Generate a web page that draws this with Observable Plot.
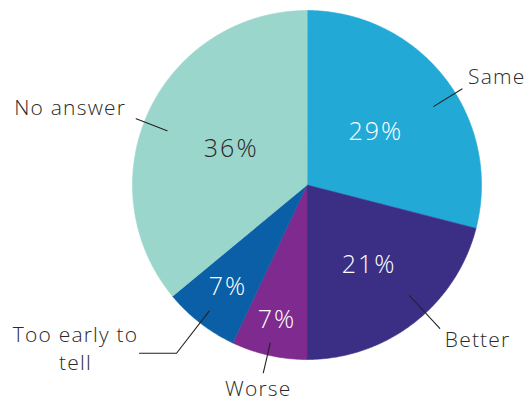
<!DOCTYPE html>
<html>
<head>
<meta charset="utf-8">
<script src="https://cdn.jsdelivr.net/npm/d3@7"></script>
<script src="https://cdn.jsdelivr.net/npm/@observablehq/plot@0.6"></script>
<style>
  html, body { margin: 0; padding: 0; background: #fff; }
  svg [font-size="25"] { letter-spacing: 2px; }
  svg [font-size="21"] { letter-spacing: 1.2px; }
</style>
</head>
<body>
<div id="chart"></div>
<script>
// ---- data ----
const categories = ["Same", "Better", "Worse", "Too early to\ntell", "No answer"];
const values = [29, 21, 7, 7, 36];
const colors = ["#22a9d6", "#3a2f84", "#7e2a8e", "#0a5fa6", "#9bd6cc"];
const darkLabel = [false, false, false, false, true];

// ---- layout (pixels) ----
const W = 530, H = 401;
const cx = 306.5, cy = 184.5, R = 174.5;
// per slice: radius factor for % label, leader angle offset (deg), leader r0/r1 factors, label offset
const layout = [
  {pr: 0.50, da: 6,   r0: 0.855, r1: 1.045, dx: 6,   dy: -14, anchor: "start"},
  {pr: 0.58, da: -5,  r0: 0.865, r1: 1.12,  dx: 5,   dy: 10,  anchor: "start"},
  {pr: 0.79, da: 0.5, r0: 0.93,  r1: 1.105, dx: -5,  dy: 14,  anchor: "middle"},
  {pr: 0.74, da: 0,   r0: 0.915, r1: 1.22,  dx: -64, dy: -6,  anchor: "middle", elbow: 37},
  {pr: 0.48, da: -4,  r0: 0.86,  r1: 1.05,  dx: -10, dy: -13, anchor: "end"}
];

const data = categories.map((c, i) => ({label: c, value: values[i], i}));
const arcs = d3.pie().sort(null).value(d => d.value)(data);
const pt = (a, r) => [cx + r * Math.sin(a), cy - r * Math.cos(a)];
const rad = Math.PI / 180;

// slice outlines
const slicePts = [];
for (const a of arcs) {
  slicePts.push({key: a.data.label, x: cx, y: cy});
  const n = Math.max(8, Math.ceil((a.endAngle - a.startAngle) / (0.5 * rad)));
  for (let k = 0; k <= n; k++) {
    const ang = a.startAngle + (a.endAngle - a.startAngle) * k / n;
    const [x, y] = pt(ang, R);
    slicePts.push({key: a.data.label, x, y});
  }
}

// percentage labels
const pctPts = arcs.map((a, i) => {
  const mid = (a.startAngle + a.endAngle) / 2;
  const [x, y] = pt(mid, R * layout[i].pr);
  return {x, y, text: `${a.data.value}%`, dark: darkLabel[i]};
});

// leaders + category labels
const leaderPts = [];
const catPts = [];
arcs.forEach((a, i) => {
  const L = layout[i];
  const mid = (a.startAngle + a.endAngle) / 2 + L.da * rad;
  const [x0, y0] = pt(mid, R * L.r0);
  const [x1, y1] = pt(mid, R * L.r1);
  leaderPts.push({k: i, x: x0, y: y0});
  leaderPts.push({k: i, x: x1, y: y1});
  let ex = x1, ey = y1;
  if (L.elbow) {
    ex = x1 - L.elbow;
    leaderPts.push({k: i, x: ex, y: ey});
  }
  catPts.push({x: ex + L.dx, y: ey + L.dy, text: a.data.label, anchor: L.anchor});
});

const font = "'Open Sans', Lato, sans-serif";

const plot = Plot.plot({
  width: W,
  height: H,
  margin: 0,
  x: {domain: [0, W], axis: null},
  y: {domain: [H, 0], axis: null},
  color: {domain: categories, range: colors},
  style: {fontFamily: font, background: "#fff", overflow: "visible"},
  marks: [
    Plot.line(slicePts, {x: "x", y: "y", z: "key", fill: "key", stroke: "key", strokeWidth: 0.6, curve: "linear-closed"}),
    Plot.line(leaderPts, {x: "x", y: "y", z: "k", stroke: "#222", strokeWidth: 1.1}),
    Plot.text(pctPts.filter(d => !d.dark), {x: "x", y: "y", text: "text", fill: "white", fontSize: 25, fontWeight: 300}),
    Plot.text(pctPts.filter(d => d.dark), {x: "x", y: "y", text: "text", fill: "#2a2a2a", fontSize: 25, fontWeight: 300}),
    ...["start", "middle", "end"].map(anc =>
      Plot.text(catPts.filter(d => d.anchor === anc), {x: "x", y: "y", text: "text", textAnchor: anc, fill: "#2a2a2a", fontSize: 21, fontWeight: 300, lineHeight: 1.35})
    )
  ]
});
document.getElementById("chart").appendChild(plot);
</script>
</body>
</html>
